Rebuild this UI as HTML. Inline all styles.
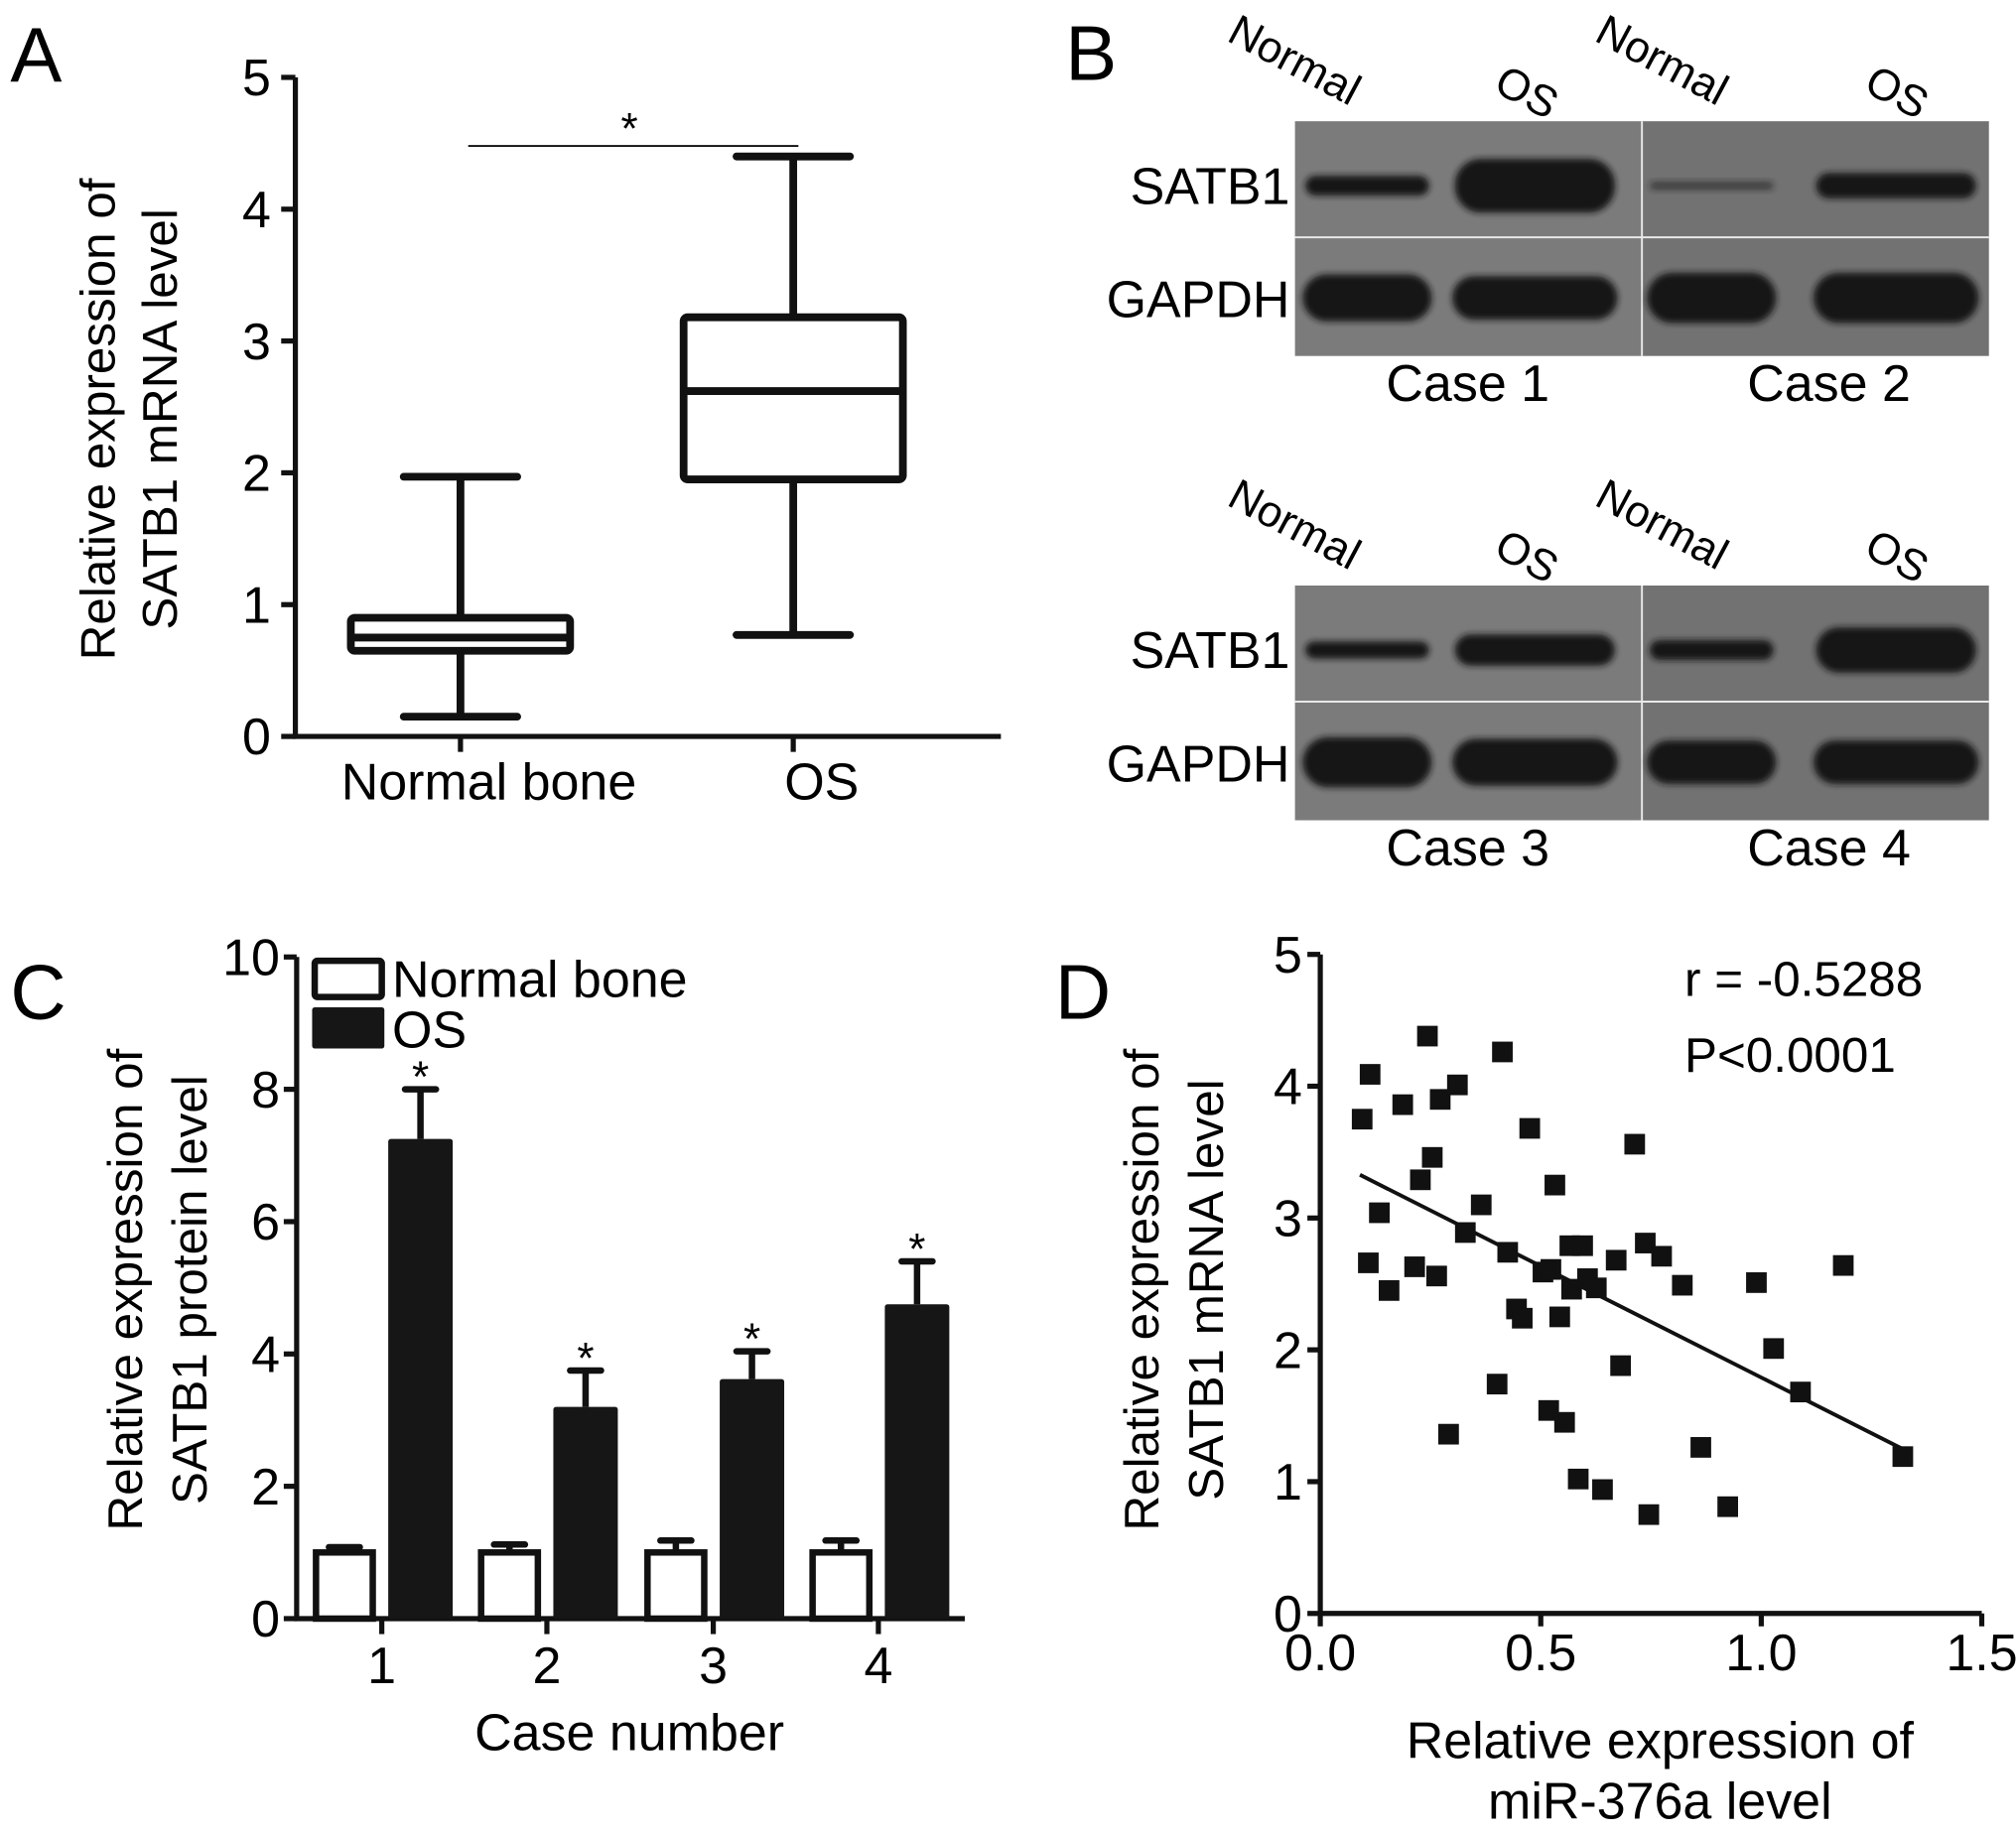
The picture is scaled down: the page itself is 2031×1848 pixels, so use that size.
<!DOCTYPE html>
<html><head><meta charset="utf-8"><style>
html,body{margin:0;padding:0;background:#fff;}
svg{display:block;font-family:"Liberation Sans",Arial,sans-serif;}
</style></head><body>
<svg id="fig" width="2031" height="1848" viewBox="0 0 1563 1422" preserveAspectRatio="none" xmlns="http://www.w3.org/2000/svg">
<defs><filter id="blur" x="-20%" y="-50%" width="140%" height="200%"><feGaussianBlur stdDeviation="2.5"/></filter></defs>
<rect width="1563" height="1422" fill="#fff"/>
<g id="pa"></g>
<g id="pb"></g>
<g id="pc"></g>
<g id="pd"></g>
</svg>
<script>
// ---------- data ----------
const boxGroups = ["Normal bone", "OS"];
const boxMin = [0.15, 0.77];
const boxQ1 = [0.65, 1.95];
const boxMed = [0.75, 2.62];
const boxQ3 = [0.90, 3.18];
const boxMax = [1.97, 4.40];
const aTicks = [0, 1, 2, 3, 4, 5];

const cCases = ["1", "2", "3", "4"];
const cNormal = [1.0, 1.0, 1.0, 1.0];
const cNormalErr = [0.08, 0.12, 0.18, 0.18];
const cOS = [7.25, 3.2, 3.62, 4.75];
const cOSErr = [0.75, 0.55, 0.42, 0.65];
const cTicks = [0, 2, 4, 6, 8, 10];

const dX = [0.095,0.113,0.243,0.187,0.272,0.311,0.413,0.254,0.227,0.134,0.109,0.156,0.214,0.264,0.329,0.365,0.475,0.532,0.713,0.425,0.505,0.523,0.566,0.595,0.57,0.606,0.626,0.671,0.737,0.774,0.821,0.989,1.186,0.445,0.458,0.543,1.028,0.681,1.089,0.401,0.518,0.554,0.291,0.863,1.321,0.585,0.64,0.745,0.924];
const dY = [3.75,4.09,4.38,3.86,3.90,4.01,4.26,3.46,3.29,3.04,2.66,2.45,2.63,2.56,2.89,3.10,3.68,3.25,3.56,2.74,2.59,2.61,2.79,2.79,2.46,2.54,2.47,2.68,2.81,2.71,2.49,2.51,2.64,2.31,2.24,2.25,2.01,1.88,1.68,1.74,1.54,1.45,1.36,1.26,1.19,1.02,0.94,0.75,0.81];
const dFitX = [0.09, 1.33];
const dSlope = -1.69;
const dIntercept = 3.48;
const dXTicks = [0.0, 0.5, 1.0, 1.5];
const dYTicks = [0, 1, 2, 3, 4, 5];

// ---------- helpers ----------
const NS = "http://www.w3.org/2000/svg";
function mk(parent, tag, attrs, txt) {
  const e = document.createElementNS(NS, tag);
  for (const k in attrs) e.setAttribute(k, attrs[k]);
  if (txt !== undefined) e.textContent = txt;
  parent.appendChild(e);
  return e;
}
const K = "#111";

// ---------- Panel A ----------
const pa = document.getElementById("pa");
const ayA = v => 571 - v * 102.2;
const axA = [357, 615];
let t = mk(pa, "text", {x: 8, y: 63, "font-size": 60}, "A");


let ax = mk(pa, "path", {d: `M229 ${ayA(5)} V${ayA(0)} H776`, stroke: K, "stroke-width": 4, fill: "none"});


aTicks.forEach(v => {
  mk(pa, "line", {x1: 218, x2: 229, y1: ayA(v), y2: ayA(v), stroke: K, "stroke-width": 4});
  const l = mk(pa, "text", {x: 210, y: ayA(v) + 14, "font-size": 40, "text-anchor": "end"}, v);
  
  
});
boxGroups.forEach((g, i) => {
  const cx = axA[i];
  mk(pa, "line", {x1: cx, x2: cx, y1: ayA(0), y2: ayA(0) + 12, stroke: K, "stroke-width": 4});
  const l = mk(pa, "text", {x: cx + 22, y: 620, "font-size": 40, "text-anchor": "middle"}, g);
  
  
  const gb = mk(pa, "g", {});
  
  
  const sw = 6;
  mk(gb, "line", {x1: cx, x2: cx, y1: ayA(boxMax[i]), y2: ayA(boxQ3[i]), stroke: K, "stroke-width": sw});
  mk(gb, "line", {x1: cx, x2: cx, y1: ayA(boxQ1[i]), y2: ayA(boxMin[i]), stroke: K, "stroke-width": sw});
  mk(gb, "line", {x1: cx - 44, x2: cx + 44, y1: ayA(boxMax[i]), y2: ayA(boxMax[i]), stroke: K, "stroke-width": sw, "stroke-linecap": "round"});
  mk(gb, "line", {x1: cx - 44, x2: cx + 44, y1: ayA(boxMin[i]), y2: ayA(boxMin[i]), stroke: K, "stroke-width": sw, "stroke-linecap": "round"});
  mk(gb, "rect", {x: cx - 85, y: ayA(boxQ3[i]), width: 170, height: ayA(boxQ1[i]) - ayA(boxQ3[i]), fill: "#fff", stroke: K, "stroke-width": sw, rx: 3});
  mk(gb, "line", {x1: cx - 85, x2: cx + 85, y1: ayA(boxMed[i]), y2: ayA(boxMed[i]), stroke: K, "stroke-width": sw});
});
t = mk(pa, "line", {x1: 363, x2: 619, y1: ayA(4.48), y2: ayA(4.48), stroke: K, "stroke-width": 1.5});


t = mk(pa, "text", {x: 488, y: ayA(4.48) - 2, "font-size": 34, "text-anchor": "middle"}, "*");


t = mk(pa, "text", {transform: "translate(89,325) rotate(-90)", "font-size": 38, "text-anchor": "middle"});


mk(t, "tspan", {x: 0, y: 0}, "Relative expression of");
mk(t, "tspan", {x: 0, y: 48}, "SATB1 mRNA level");

// ---------- Panel B ----------
const pb = document.getElementById("pb");
t = mk(pb, "text", {x: 826, y: 62, "font-size": 60}, "B");


const blotRows = [
  {top: 94, cases: ["Case 1", "Case 2"], sat: [[3.5, 9.5], [1.5, 4.5]], gap: [[7, 6.5], [7.5, 7.5]]},
  {top: 454, cases: ["Case 3", "Case 4"], sat: [[3, 5.5], [3.5, 8]], gap: [[7.5, 7], [6.5, 6.5]]}
];
const lanes = [[1060, 1190], [1327, 1470]];
blotRows.forEach((r, ri) => {
  const g = mk(pb, "g", {});
  
  
  mk(g, "rect", {x: 1004, y: r.top, width: 269, height: 182, fill: "#7b7b7b"});
  mk(g, "rect", {x: 1273, y: r.top, width: 269, height: 182, fill: "#727272"});
  mk(g, "line", {x1: 1004, x2: 1542, y1: r.top + 90, y2: r.top + 90, stroke: "#e8e8e8", "stroke-width": 1.5});
  mk(g, "line", {x1: 1273, x2: 1273, y1: r.top, y2: r.top + 182, stroke: "#e8e8e8", "stroke-width": 1.5});
  [0, 1].forEach(c => {
    [0, 1].forEach(l => {
      const cx = lanes[c][l];
      const w = l === 0 ? 96 : 124;
      const sh = r.sat[c][l] * 4.4;
      const b1 = mk(g, "rect", {x: cx - w / 2, y: r.top + 50 - sh / 2, width: w, height: sh, rx: Math.min(sh / 2, 20), fill: "#141414", filter: "url(#blur)", opacity: r.sat[c][l] < 2 ? 0.55 : 1});
      
      
      const gh = r.gap[c][l] * 5.2;
      const b2 = mk(g, "rect", {x: cx - w / 2 - 2, y: r.top + 137 - gh / 2, width: w + 4, height: gh, rx: gh / 2, fill: "#181818", filter: "url(#blur)"});
      
      
    });
    const cl = mk(pb, "text", {x: c === 0 ? 1138 : 1418, y: r.top + 217, "font-size": 40, "text-anchor": "middle"}, r.cases[c]);
    
    
    const off = ri * 360;
    const n = mk(pb, "text", {transform: `translate(${c === 0 ? 950 : 1235},${31 + off}) rotate(28)`, "font-size": 34}, "Normal");
    
    
    const o = mk(pb, "text", {transform: `translate(${c === 0 ? 1184 : 1471},${71 + off}) rotate(28)`, "font-size": 34, "text-anchor": "middle", dy: 12}, "OS");
    
    
  });
  const s = mk(pb, "text", {x: 1000, y: r.top + 64, "font-size": 40, "text-anchor": "end"}, "SATB1");
  
  
  const gp = mk(pb, "text", {x: 1000, y: r.top + 152, "font-size": 40, "text-anchor": "end"}, "GAPDH");
  
  
});

// ---------- Panel C ----------
const pc = document.getElementById("pc");
const ayC = v => 1255 - v * 51.3;
const axC = [296, 424, 553, 681];
t = mk(pc, "text", {x: 8, y: 790, "font-size": 60}, "C");


ax = mk(pc, "path", {d: `M230 ${ayC(10)} V${ayC(0)} H748`, stroke: K, "stroke-width": 4, fill: "none"});


cTicks.forEach(v => {
  mk(pc, "line", {x1: 220, x2: 230, y1: ayC(v), y2: ayC(v), stroke: K, "stroke-width": 4});
  const l = mk(pc, "text", {x: 217, y: ayC(v) + 14, "font-size": 40, "text-anchor": "end"}, v);
  
  
});
cCases.forEach((c, i) => {
  const x = axC[i];
  mk(pc, "line", {x1: x, x2: x, y1: ayC(0), y2: ayC(0) + 12, stroke: K, "stroke-width": 4});
  const l = mk(pc, "text", {x: x, y: 1305, "font-size": 40, "text-anchor": "middle"}, c);
  
  
  const ex = x - 29;
  mk(pc, "line", {x1: ex, x2: ex, y1: ayC(cNormal[i] + cNormalErr[i]), y2: ayC(cNormal[i]), stroke: K, "stroke-width": 5});
  mk(pc, "line", {x1: ex - 12, x2: ex + 12, y1: ayC(cNormal[i] + cNormalErr[i]), y2: ayC(cNormal[i] + cNormalErr[i]), stroke: K, "stroke-width": 5, "stroke-linecap": "round"});
  const b1 = mk(pc, "rect", {x: ex - 22, y: ayC(cNormal[i]), width: 44, height: ayC(0) - ayC(cNormal[i]), fill: "#fff", stroke: K, "stroke-width": 5});
  
  
  const ox = x + 30;
  const top = cOS[i] + cOSErr[i];
  mk(pc, "line", {x1: ox, x2: ox, y1: ayC(top), y2: ayC(cOS[i]), stroke: K, "stroke-width": 5});
  mk(pc, "line", {x1: ox - 12, x2: ox + 12, y1: ayC(top), y2: ayC(top), stroke: K, "stroke-width": 5, "stroke-linecap": "round"});
  const b2 = mk(pc, "rect", {x: ox - 25, y: ayC(cOS[i]), width: 50, height: ayC(0) - ayC(cOS[i]), fill: "#161616", rx: 2});
  
  
  const st = mk(pc, "text", {x: ox, y: ayC(top) + 2, "font-size": 34, "text-anchor": "middle"}, "*");
  
  
});
let lg = mk(pc, "g", {});


mk(lg, "rect", {x: 244, y: 745, width: 52, height: 28, fill: "#fff", stroke: K, "stroke-width": 5, rx: 2});
mk(lg, "rect", {x: 242, y: 781, width: 56, height: 32, fill: "#161616", rx: 2});
t = mk(lg, "text", {x: 304, y: 773, "font-size": 40}, "Normal bone");


t = mk(lg, "text", {x: 304, y: 812, "font-size": 40}, "OS");


t = mk(pc, "text", {x: 488, y: 1357, "font-size": 40, "text-anchor": "middle"}, "Case number");


t = mk(pc, "text", {transform: "translate(110,1000) rotate(-90)", "font-size": 38, "text-anchor": "middle"});


mk(t, "tspan", {x: 0, y: 0}, "Relative expression of");
mk(t, "tspan", {x: 0, y: 50}, "SATB1 protein level");

// ---------- Panel D ----------
const pd = document.getElementById("pd");
const axD = v => 1023.6 + v * 341.9;
const ayD = v => 1251 - v * 102.2;
t = mk(pd, "text", {x: 818, y: 790, "font-size": 60}, "D");


ax = mk(pd, "path", {d: `M${axD(0)} ${ayD(5)} V${ayD(0)} H${axD(1.5)}`, stroke: K, "stroke-width": 4, fill: "none"});


dYTicks.forEach(v => {
  mk(pd, "line", {x1: axD(0) - 10, x2: axD(0), y1: ayD(v), y2: ayD(v), stroke: K, "stroke-width": 4});
  const l = mk(pd, "text", {x: axD(0) - 14, y: ayD(v) + 14, "font-size": 40, "text-anchor": "end"}, v);
  
  
});
dXTicks.forEach(v => {
  mk(pd, "line", {x1: axD(v), x2: axD(v), y1: ayD(0), y2: ayD(0) + 10, stroke: K, "stroke-width": 4});
  const l = mk(pd, "text", {x: axD(v), y: 1295, "font-size": 40, "text-anchor": "middle"}, v.toFixed(1));
  
  
});
dX.forEach((x, i) => {
  const p = mk(pd, "rect", {x: axD(x) - 8, y: ayD(dY[i]) - 8, width: 16, height: 16, fill: "#111"});
  
  
});
t = mk(pd, "line", {x1: axD(dFitX[0]), y1: ayD(dIntercept + dSlope * dFitX[0]), x2: axD(dFitX[1]), y2: ayD(dIntercept + dSlope * dFitX[1]), stroke: K, "stroke-width": 3});


t = mk(pd, "text", {x: 1306, y: 772, "font-size": 38}, "r = -0.5288");


t = mk(pd, "text", {x: 1306, y: 831, "font-size": 38}, "P<0.0001");


t = mk(pd, "text", {x: 1287, y: 1363, "font-size": 40, "text-anchor": "middle"}, "Relative expression of");


t = mk(pd, "text", {x: 1287, y: 1410, "font-size": 40, "text-anchor": "middle"}, "miR-376a level");


t = mk(pd, "text", {transform: "translate(898,1000) rotate(-90)", "font-size": 38, "text-anchor": "middle"});


mk(t, "tspan", {x: 0, y: 0}, "Relative expression of");
mk(t, "tspan", {x: 0, y: 50}, "SATB1 mRNA level");
</script>
</body></html>
